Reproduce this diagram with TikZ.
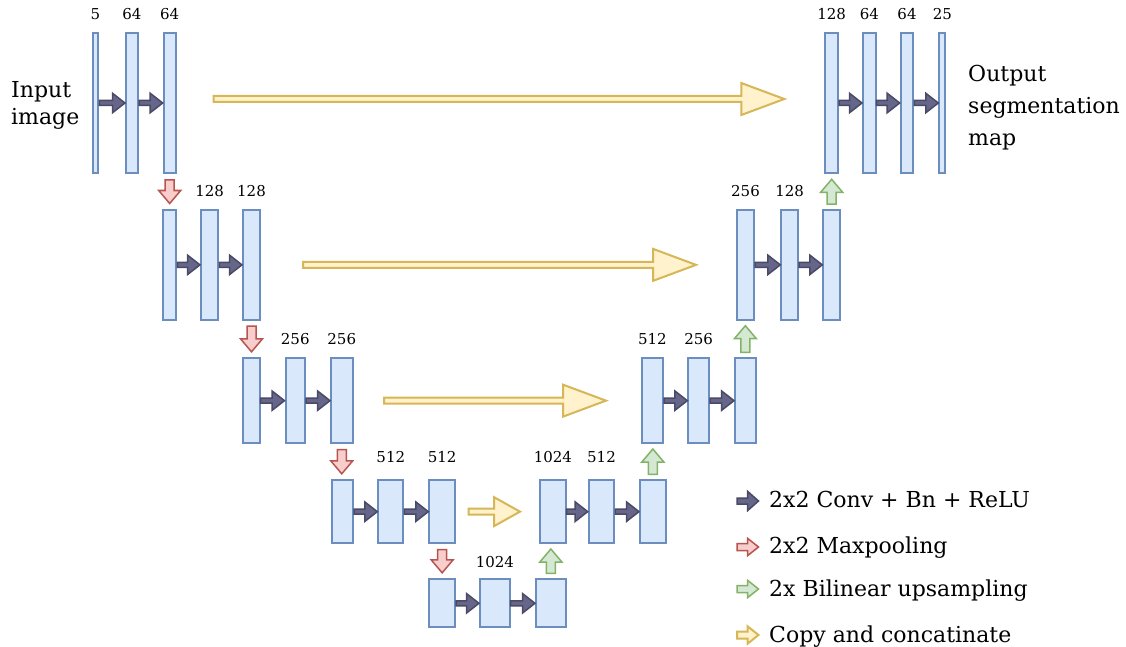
\documentclass[tikz,border=0pt]{standalone}
\usepackage{fontspec}
\setmainfont{DejaVu Serif}
\usetikzlibrary{calc}
\definecolor{barline}{HTML}{6C8EBF}
\definecolor{barfill}{HTML}{DAE8FC}
\definecolor{convfill}{HTML}{66668A}
\definecolor{convline}{HTML}{4A4A66}
\definecolor{poolfill}{HTML}{F8CECC}
\definecolor{poolline}{HTML}{B85450}
\definecolor{upfill}{HTML}{D5E8D4}
\definecolor{upline}{HTML}{82B366}
\definecolor{copyfill}{HTML}{FFF2CC}
\definecolor{copyline}{HTML}{D6B656}
\tikzset{
  fmapbox/.style={rectangle, draw=barline, fill=barfill, line width=2pt, inner sep=0pt},
  convarr/.style={draw=convline, fill=convfill, line width=1.5pt, line join=miter},
  poolarr/.style={draw=poolline, fill=poolfill, line width=1.5pt, line join=miter},
  uparr/.style={draw=upline, fill=upfill, line width=1.5pt, line join=miter},
  copyarr/.style={draw=copyline, fill=copyfill, line width=2pt, line join=miter},
  numlbl/.style={font=\fontsize{15}{17}\selectfont, inner sep=0pt, anchor=base},
  bigtxt/.style={font=\fontsize{22}{26}\selectfont, inner sep=0pt},
}
% #1 name, #2 x1, #3 x2, #4 y1, #5 y2 (outer extents)
\newcommand{\fmap}[5]{\node[fmapbox, minimum width={#3-#2-2}, minimum height={#5-#4-2}] (#1) at ({(#2+#3)/2},{(#4+#5)/2}) {};}
% #1 bar, #2 text, #3 shift
\newcommand{\flabel}[3]{\node[numlbl] (#1-l) at ([yshift=#3pt]#1.north) {#2};}
% #1 style, #2 from, #3 to, #4 shaft half, #5 head half, #6 head length
\newcommand{\blockarrow}[6]{%
  \draw[#1] let \p1=#2, \p2=#3, \n1={veclen(\x2-\x1,\y2-\y1)}, \n2={atan2(\y2-\y1,\x2-\x1)} in
   [shift={(\p1)}, rotate=\n2] (0pt,-#4pt) -- ({\n1-#6pt},-#4pt) -- ({\n1-#6pt},-#5pt) -- (\n1,0pt)
   -- ({\n1-#6pt},#5pt) -- ({\n1-#6pt},#4pt) -- (0pt,#4pt) -- cycle;}
\newcommand{\conv}[2]{\blockarrow{convarr}{(#1.east)}{(#2.west)}{2.5}{9.75}{12.5}}
\newcommand{\pool}[2]{\blockarrow{poolarr}{($(#1.south)+(0,5.5)$)}{($(#1.south |- #2.north)+(0,-5.5)$)}{4.5}{11}{13}}
\newcommand{\upsm}[2]{\blockarrow{uparr}{($(#1.north)+(0,-5)$)}{($(#1.north |- #2.south)+(0,5)$)}{4.5}{11}{13}}
\begin{document}
\begin{tikzpicture}[x=1pt,y=-1pt]
\useasboundingbox (0,0) rectangle (1126,647);
% row 1 left
\fmap{a1}{91.7}{99.3}{31.7}{174.3}
\fmap{a2}{125}{139}{31.7}{174.3}
\fmap{a3}{162.7}{176.7}{31.7}{174.3}
% row 1 right
\fmap{f1}{824.3}{839}{31.7}{174.3}
\fmap{f2}{862}{876.7}{31.7}{174.3}
\fmap{f3}{899.7}{914.3}{31.7}{174.3}
\fmap{f4}{938.3}{946.3}{31.7}{174.3}
% row 2
\fmap{b1}{162.3}{177.3}{209}{320.7}
\fmap{b2}{200}{219.3}{209}{320.7}
\fmap{b3}{242}{261}{209}{320.7}
\fmap{e1}{736}{755}{209}{320.7}
\fmap{e2}{780.3}{799}{209}{320.7}
\fmap{e3}{822.3}{841}{209}{320.7}
% row 3
\fmap{c1}{242}{260.5}{357.3}{444}
\fmap{c2}{284.5}{306}{357.3}{444}
\fmap{c3}{330}{353.5}{357.3}{444}
\fmap{d1}{640.7}{664}{357.3}{444}
\fmap{d2}{687.3}{710}{357.3}{444}
\fmap{d3}{734}{756.7}{357.3}{444}
% row 4
\fmap{g1}{330.7}{354}{479.3}{544}
\fmap{g2}{377.3}{404.3}{479.3}{544}
\fmap{g3}{428.3}{456}{479.3}{544}
\fmap{h1}{539}{566.7}{479.3}{544}
\fmap{h2}{587.7}{615.3}{479.3}{544}
\fmap{h3}{639}{666.7}{479.3}{544}
% row 5
\fmap{k1}{428.3}{456}{578.3}{628.3}
\fmap{k2}{479}{510.7}{578.3}{628.3}
\fmap{k3}{535}{566.7}{578.3}{628.3}
% labels
\flabel{a1}{5}{12}
\flabel{a2}{64}{12}
\flabel{a3}{64}{12}
\flabel{f1}{128}{12}
\flabel{f2}{64}{12}
\flabel{f3}{64}{12}
\flabel{f4}{25}{12}
\flabel{b2}{128}{12.7}
\flabel{b3}{128}{12.7}
\flabel{e1}{256}{12.7}
\flabel{e2}{128}{12.7}
\flabel{c2}{256}{13}
\flabel{c3}{256}{13}
\flabel{d1}{512}{13}
\flabel{d2}{256}{13}
\flabel{g2}{512}{17}
\flabel{g3}{512}{17}
\flabel{h1}{1024}{17}
\flabel{h2}{512}{17}
\flabel{k2}{1024}{11}
% conv arrows
\conv{a1}{a2}\conv{a2}{a3}
\conv{f1}{f2}\conv{f2}{f3}\conv{f3}{f4}
\conv{b1}{b2}\conv{b2}{b3}
\conv{e1}{e2}\conv{e2}{e3}
\conv{c1}{c2}\conv{c2}{c3}
\conv{d1}{d2}\conv{d2}{d3}
\conv{g1}{g2}\conv{g2}{g3}
\conv{h1}{h2}\conv{h2}{h3}
\conv{k1}{k2}\conv{k2}{k3}
% maxpooling
\pool{a3}{b1}
\pool{b3}{c1}
\pool{c3}{g1}
\pool{g3}{k1}
% upsampling
\upsm{k3}{h1}
\upsm{h3}{d1}
\upsm{d3}{e1}
\upsm{e3}{f1}
% copy and concatenate
\blockarrow{copyarr}{($(a3.east)+(37,-4)$)}{($(f1.west)+(-40,-4)$)}{3}{16}{43}
\blockarrow{copyarr}{($(b3.east)+(42,0)$)}{($(e1.west)+(-40,0)$)}{3}{16}{43}
\blockarrow{copyarr}{($(c3.east)+(30.5,0)$)}{($(d1.west)+(-34.7,0)$)}{3}{16}{43}
\blockarrow{copyarr}{($(g3.east)+(12.7,0)$)}{($(h1.west)+(-19,0)$)}{3}{14.5}{26}
% texts
\node[bigtxt, anchor=base west] (inp) at (11,97.7) {Input};
\node[bigtxt, anchor=base west] (inp2) at (11,124.2) {image};
\node[bigtxt, anchor=base west] (out1) at (968,81.7) {Output};
\node[bigtxt, anchor=base west] (out2) at (968,113.5) {segmentation};
\node[bigtxt, anchor=base west] (out3) at (968,145.5) {map};
% legend
\coordinate (l1s) at (737,501); \coordinate (l1e) at (758.5,501);
\coordinate (l2s) at (737,547); \coordinate (l2e) at (758.5,547);
\coordinate (l3s) at (737,589); \coordinate (l3e) at (758.5,589);
\coordinate (l4s) at (737,635); \coordinate (l4e) at (758.5,635);
\blockarrow{convarr}{(l1s)}{(l1e)}{3}{9.75}{11}
\blockarrow{poolarr}{(l2s)}{(l2e)}{3.5}{8.75}{11}
\blockarrow{uparr}{(l3s)}{(l3e)}{3.5}{8.75}{11}
\blockarrow{copyarr}{(l4s)}{(l4e)}{3.5}{8.75}{11}
\node[bigtxt, anchor=base west] (t1) at (769,507.7) {2x2 Conv + Bn + ReLU};
\node[bigtxt, anchor=base west] (t2) at (769,553.3) {2x2 Maxpooling};
\node[bigtxt, anchor=base west] (t3) at (769,596) {2x Bilinear upsampling};
\node[bigtxt, anchor=base west] (t4) at (769,642.7) {Copy and concatinate};
\end{tikzpicture}
\end{document}
